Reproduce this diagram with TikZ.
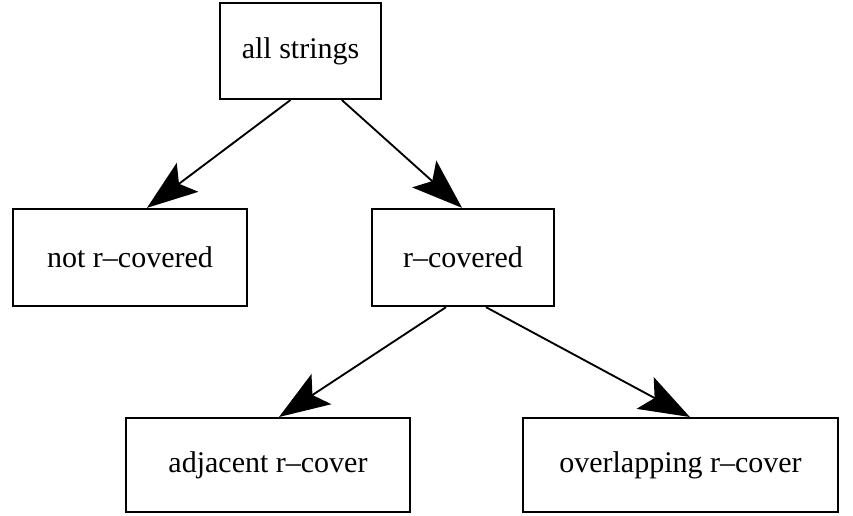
\documentclass[tikz,border=0pt]{standalone}
\usepackage{fontspec}
\setmainfont{Liberation Serif}
\usetikzlibrary{arrows.meta}
\usetikzlibrary{positioning}

\begin{document}
\begin{tikzpicture}[x=0.75pt,y=-0.75pt,
  every node/.style={draw,line width=1.5pt,rectangle,font=\fontsize{22.5}{26}\selectfont,inner sep=0pt},
  link/.style={line width=1.4pt,-{Stealth[length=38pt,width=27pt,inset=8pt]}}]
  \useasboundingbox (0,0) rectangle (853,515);
  % the nodes
  \node (all) at (300.5,51)[minimum width=121pt,minimum height=72pt]{all strings};
  \node (notcov) at (130,257.5)[minimum width=175.5pt,minimum height=73pt]{not r--covered};
  \node (cov) at (463,257.5)[minimum width=136.5pt,minimum height=73pt]{r--covered};
  \node (adj) at (268,465)[minimum width=213pt,minimum height=70.5pt]{adjacent r--cover};
  \node (over) at (680.5,465)[minimum width=236pt,minimum height=70.5pt]{overlapping r--cover};

  \draw[link]([xshift=-7.5pt]all.south)--([xshift=12.75pt]notcov.north);
  \draw[link]([xshift=31pt]all.south)--([xshift=-0.75pt]cov.north);
  \draw[link]([xshift=-12.75pt]cov.south)--([xshift=8.25pt]adj.north);
  \draw[link]([xshift=17.25pt]cov.south)--([xshift=7pt]over.north);
\end{tikzpicture}
\end{document}
